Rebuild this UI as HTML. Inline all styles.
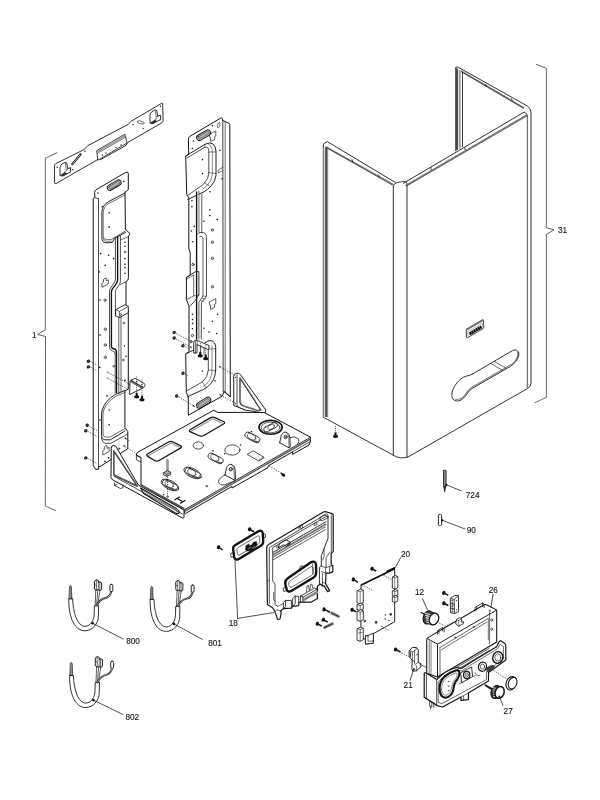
<!DOCTYPE html>
<html><head><meta charset="utf-8"><title>Exploded view</title>
<style>
html,body{margin:0;padding:0;background:#fff;}
body{width:600px;height:800px;overflow:hidden;}
svg{display:block;}
text{font-family:"Liberation Sans",sans-serif;fill:#1a1a1a;stroke:#1a1a1a;stroke-width:0.15px;}
</style></head><body>
<svg width="600" height="800" viewBox="0 0 600 800" stroke-linecap="round" stroke-linejoin="round">
<rect width="600" height="800" fill="#fff"/>
<g id="brackets">
<path d="M57,152.8 L45.3,158.2 L45.3,329.8 L37.5,334.5 L45.5,336.5 L45.3,506 L55.5,510.5" fill="none" stroke="#333" stroke-width="0.75" />
<path d="M536.3,64.3 L546.4,68.3 L546.4,227.8 L554,229.8 L546.4,234.2 L546.4,397.3 L535,402.7" fill="none" stroke="#333" stroke-width="0.75" />
</g>
<g id="cover">
<path d="M323.3,146 Q323.3,143.8 325,142.8 L327.5,141.7 L395.4,182.5" fill="none" stroke="#141414" stroke-width="0.88" />
<path d="M323.3,146 L323.3,417.2 L393.3,455.2 Q400,459.5 408,457 L527.5,388.5 Q531,386.5 531,383 L531,113 Q531,108 527.2,105.9 L457.6,66.9 Q456.2,66.4 455.8,67.8" fill="none" stroke="#141414" stroke-width="0.88" />
<rect x="323.6" y="147.5" width="1.6" height="269" fill="#ccc"/>
<rect x="325.2" y="147.5" width="2.4" height="269.5" fill="#4a4a4a"/>
<path d="M327.8,148 L327.8,416" fill="none" stroke="#888" stroke-width="0.62" />
<path d="M326,146.8 L393,184.4" fill="none" stroke="#777" stroke-width="1.38" />
<path d="M326,147.4 L392.6,185.2" fill="none" stroke="#141414" stroke-width="0.62" />
<path d="M393.3,187.5 Q393.3,183.5 397,182.6 L404,181.4 Q407.5,181.6 407.2,185.5" fill="none" stroke="#141414" stroke-width="0.75" />
<path d="M393.3,187 L393.3,455" fill="none" stroke="#141414" stroke-width="0.88" />
<path d="M407,185 L407,457" fill="none" stroke="#141414" stroke-width="0.88" />
<path d="M403.3,183.3 L524,112.2" fill="none" stroke="#141414" stroke-width="0.88" />
<path d="M406,185.4 L526.6,115" fill="none" stroke="#777" stroke-width="1.38" />
<path d="M406.4,186.2 L527,116" fill="none" stroke="#141414" stroke-width="0.62" />
<path d="M461.4,71.2 L523.6,107.6" fill="none" stroke="#777" stroke-width="1.38" />
<path d="M461.4,71.8 L523.2,108.2" fill="none" stroke="#141414" stroke-width="0.62" />
<rect x="455.8" y="68.5" width="2.2" height="81.5" fill="#555"/>
<rect x="458" y="70" width="2" height="79" fill="#ddd"/>
<path d="M455.8,67.8 L455.8,150.6" fill="none" stroke="#141414" stroke-width="0.88" />
<path d="M460,71 L460,148.2" fill="none" stroke="#141414" stroke-width="0.62" />
<path d="M462.5,72.4 L462.5,146.8" fill="none" stroke="#141414" stroke-width="0.81" />
<path d="M527.3,116 L527.3,387.5" fill="none" stroke="#141414" stroke-width="0.75" />
<path d="M524,112.2 Q527.4,112.4 527.3,116" fill="none" stroke="#141414" stroke-width="0.62" />
<path d="M352,159.5 l0.8,2" fill="none" stroke="#141414" stroke-width="0.75" />
<path d="M378.6,175 l0.8,2" fill="none" stroke="#141414" stroke-width="0.75" />
<path d="M485.6,84.4 l0.8,2" fill="none" stroke="#141414" stroke-width="0.75" />
<path d="M511.4,98.6 l0.8,2" fill="none" stroke="#141414" stroke-width="0.75" />
<path d="M465,147.6 l0,2.2" fill="none" stroke="#141414" stroke-width="0.75" />
<path d="M431,167.4 l0,2.2" fill="none" stroke="#141414" stroke-width="0.75" />
<path d="M467,328.8 L482.4,319.8 Q483.4,319.4 483.5,320.4 L483.8,327.4 Q483.8,328.2 483,328.7 L467.6,337.6 Q466.6,338 466.5,337 L466.2,330 Q466.2,329.2 467,328.8 Z" fill="#fff" stroke="#333" stroke-width="0.94" />
<path d="M467,329.6 L482.6,320.6" fill="none" stroke="#777" stroke-width="1.50" />
<path d="M468,331.4 L482.4,323.2 L482.6,326.8 L468.2,335.2 Z" fill="none" stroke="#666" stroke-width="0.50" />
<path d="M469.6,333.8 L481.6,326.8" fill="none" stroke="#111" stroke-width="3.12" stroke-dasharray="2.1 0.3" stroke-linecap="butt"/>
<path d="M472,374.3 L512.5,350.6 C516.5,348.6 520,351.5 518.6,356 C517.5,360 514.5,363.8 510.5,366.3 L472,388.5 C468,391 467.5,394 465,396.5 C462,400.5 458,401.6 455,400.6 C451,399 451.3,393 453.5,388.5 C456,383 460.5,378 465.5,376.4 C468,375.6 470,375.4 472,374.3 Z" fill="none" stroke="#141414" stroke-width="0.88" />
<path d="M517.6,352.5 C518.6,356 516,361.5 511,364.6 L471.5,387.4 C468,389.5 467,392.5 464.5,395.5 C461.5,399 458,400 455.5,399.2" fill="none" stroke="#141414" stroke-width="0.62" />
<path d="M490.6,363.4 L502.4,370.2 M494.2,361.3 L506,368.2" fill="none" stroke="#141414" stroke-width="0.62" />
<path d="M335.5,426 L335.5,432.6" stroke="#141414" stroke-width="0.62" stroke-dasharray="1.2 0.9" stroke-linecap="butt"/>
<path d="M334.6,432.5 Q335.5,431.8 336.4,432.5 L336.7,435 Q338.2,435.4 338.1,436.7 Q337.9,438.1 335.5,438.1 Q333.1,438.1 332.9,436.7 Q332.8,435.4 334.3,435 Z" fill="#111"/>
</g>
<g id="wallbracket">
<path d="M54.5,165.5 Q54.5,164.3 55.5,163.8 L84.5,149.3 L87.5,145.8 L128.5,124.2 L131,121.3 L161.5,103.4 Q162.6,102.8 162.7,104 L163.1,121 Q163.1,122 162.2,122.6 L127.6,142.6 L126,145.4 L100.5,159.6 L99,158.8 L56,183.6 Q54.6,184.2 54.5,183 Z" fill="none" stroke="#141414" stroke-width="0.88" />
<path d="M97,150.4 L125,134.2 L127,143 L98.2,160 Z" fill="#fff" stroke="#141414" stroke-width="0.81" />
<path d="M97.6,153.2 L125.8,137" fill="none" stroke="#141414" stroke-width="0.62" />
<path d="M97.4,151.8 L125.4,135.6" fill="none" stroke="#999" stroke-width="1.50" />
<path d="M60,167.4 Q60,165.2 62,164 L64.6,162.5 Q66.8,161.7 67,164 L67.8,168.6 L70.6,167.6 L70.6,172 L62.8,176 L60.4,175.6 Z" fill="#fff" stroke="#141414" stroke-width="0.88" />
<path d="M60.8,175 L64.8,172.4 L66.8,173.6 L62.8,175.8 Z" fill="#333" stroke="#141414" stroke-width="0.50" />
<path d="M67.8,168.6 L65.8,171.6 L64.8,172.4 M65.4,163.4 L66.2,169.4" fill="none" stroke="#141414" stroke-width="0.62" />
<path d="M150,115.0 Q150,112.79999999999998 152,111.6 L154.6,110.1 Q156.8,109.29999999999998 157,111.6 L157.8,116.19999999999999 L160.6,115.19999999999999 L160.6,119.6 L152.8,123.6 L150.4,123.19999999999999 Z" fill="#fff" stroke="#141414" stroke-width="0.88" />
<path d="M150.8,122.6 L154.8,120.0 L156.8,121.19999999999999 L152.8,123.4 Z" fill="#333" stroke="#141414" stroke-width="0.50" />
<path d="M157.8,116.19999999999999 L155.8,119.19999999999999 L154.8,120.0 M155.4,111.0 L156.2,117.0" fill="none" stroke="#141414" stroke-width="0.62" />
<path d="M72.3,164.2 L80.6,154.2" fill="none" stroke="#141414" stroke-width="2.12" />
<path d="M72.3,164.2 L80.6,154.2" fill="none" stroke="#fff" stroke-width="0.62" stroke-dasharray="0.6 0.5"/>
<path d="M137.6,121.6 Q138,120.3 139.4,120.6 L144,122.3 Q144.8,123.2 143.7,123.9 L139.2,123.6 Q137.6,123.2 137.6,121.6 Z" fill="none" stroke="#141414" stroke-width="0.62" />
<circle cx="57.3" cy="167.3" r="0.7" fill="#141414"/>
<circle cx="72.7" cy="169.7" r="0.7" fill="#141414"/>
<circle cx="85" cy="151.2" r="0.7" fill="#141414"/>
<circle cx="133" cy="124.5" r="0.7" fill="#141414"/>
<circle cx="143.3" cy="128.6" r="0.7" fill="#141414"/>
<circle cx="160.4" cy="106.3" r="0.7" fill="#141414"/>
<circle cx="102.4" cy="155" r="0.7" fill="#141414"/>
<circle cx="106" cy="153" r="0.7" fill="#141414"/>
<circle cx="116" cy="147.4" r="0.7" fill="#141414"/>
<circle cx="121" cy="145" r="0.7" fill="#141414"/>
</g>
<g id="tray">
<path d="M137.5,452.4 L213.8,410.2 L217.5,412.4 L264,412.4 L310.5,437.2 L310.5,441.4 L309,445 L292.6,454.4 L292.6,451.8 L268,466 L268,467.6 L232,488 L232,486.4 L185.6,513.4 Q184.2,513.6 184.2,512 L184.2,510 L141,485 L141,457.6 L136.4,455.2 Z" fill="#fff" stroke="#141414" stroke-width="1.00" />
<path d="M184.4,509.8 L310.5,437.2" fill="none" stroke="#141414" stroke-width="0.88" />
<path d="M185,511.2 L310.5,438.9" fill="none" stroke="#555" stroke-width="1.38" stroke-dasharray="0.5 0.5"/>
<path d="M292.6,451.8 L310.5,441.4" fill="none" stroke="#141414" stroke-width="0.75" />
<path d="M136.4,455.2 L136.4,459.8 L140.6,461.8 M136.4,455.2 L141,457.6" fill="none" stroke="#141414" stroke-width="0.75" />
<path d="M147.82,456.35 Q145.60,455.00 147.87,453.72 L168.53,442.08 Q170.80,440.80 173.12,441.98 L180.28,445.62 Q182.60,446.80 180.35,448.11 L159.05,460.49 Q156.80,461.80 154.58,460.45 Z" fill="none" stroke="#141414" stroke-width="1.25" />
<path d="M148.6,455.6 L171,443 L179,447" fill="none" stroke="#141414" stroke-width="0.56" />
<path d="M190.57,431.86 Q188.20,430.80 190.44,429.49 L210.26,417.91 Q212.50,416.60 214.87,417.67 L223.43,421.53 Q225.80,422.60 223.56,423.92 L203.84,435.48 Q201.60,436.80 199.23,435.74 Z" fill="none" stroke="#141414" stroke-width="1.25" />
<path d="M191.2,431.4 L212.6,418.8 L222,423" fill="none" stroke="#141414" stroke-width="0.56" />
<ellipse cx="198.3" cy="445.5" rx="5.2" ry="3.6" fill="none" stroke="#141414" stroke-width="0.75"/>
<ellipse cx="232.4" cy="450" rx="7.6" ry="5.1" fill="none" stroke="#141414" stroke-width="0.75"/>
<rect x="239.8" y="444.4" width="1.4" height="1.2" fill="#141414"/>
<rect x="224.0" y="453.09999999999997" width="1.4" height="1.2" fill="#141414"/>
<rect x="212.3" y="450.2" width="1.4" height="1.2" fill="#141414"/>
<rect x="250.70000000000002" y="431.0" width="1.4" height="1.2" fill="#141414"/>
<g transform="translate(215.6 458.4) rotate(27)">
<rect x="-8.2" y="-3" width="16.4" height="6" rx="3" fill="#fff" stroke="#141414" stroke-width="0.75"/>
<ellipse cx="-1" cy="-0.2" rx="4.6" ry="2.7" fill="none" stroke="#141414" stroke-width="0.56"/>
<path d="M1,3 Q6,3 8,0.6 Q7,2.2 4.4,1.8 Q2.4,2.4 1,3 Z" fill="#555" stroke="#444" stroke-width="0.62"/>
</g>
<g transform="translate(192.6 473) rotate(27)">
<ellipse cx="0" cy="0" rx="9.6" ry="4.4" fill="none" stroke="#141414" stroke-width="0.75"/>
<rect x="-8.2" y="-3" width="16.4" height="6" rx="3" fill="#fff" stroke="#141414" stroke-width="0.75"/>
<ellipse cx="-1" cy="-0.2" rx="4.6" ry="2.7" fill="none" stroke="#141414" stroke-width="0.56"/>
<path d="M1,3 Q6,3 8,0.6 Q7,2.2 4.4,1.8 Q2.4,2.4 1,3 Z" fill="#555" stroke="#444" stroke-width="0.62"/>
</g>
<g transform="translate(170 485) rotate(27)">
<ellipse cx="0" cy="0" rx="9.6" ry="4.4" fill="none" stroke="#141414" stroke-width="0.75"/>
<rect x="-8.2" y="-3" width="16.4" height="6" rx="3" fill="#fff" stroke="#141414" stroke-width="0.75"/>
<ellipse cx="-1" cy="-0.2" rx="4.6" ry="2.7" fill="none" stroke="#141414" stroke-width="0.56"/>
<path d="M1,3 Q6,3 8,0.6 Q7,2.2 4.4,1.8 Q2.4,2.4 1,3 Z" fill="#555" stroke="#444" stroke-width="0.62"/>
</g>
<g transform="translate(252.4 437.4) rotate(27)">
<rect x="-8.2" y="-3" width="16.4" height="6" rx="3" fill="#fff" stroke="#141414" stroke-width="0.75"/>
<ellipse cx="-1" cy="-0.2" rx="4.6" ry="2.7" fill="none" stroke="#141414" stroke-width="0.56"/>
<path d="M1,3 Q6,3 8,0.6 Q7,2.2 4.4,1.8 Q2.4,2.4 1,3 Z" fill="#555" stroke="#444" stroke-width="0.62"/>
</g>
<path d="M247.5,454.2 L253.3,450.8 L264.2,457.5 L259.2,460.8 Z" fill="none" stroke="#141414" stroke-width="0.75" />
<path d="M259.2,460.8 L259.4,459.6 L263.4,457.2" fill="none" stroke="#141414" stroke-width="0.50" />
<ellipse cx="270.6" cy="427.3" rx="11.6" ry="6.9" fill="none" stroke="#141414" stroke-width="1.62"/>
<ellipse cx="270.6" cy="427.5" rx="9.4" ry="5.3" fill="none" stroke="#141414" stroke-width="0.62"/>
<g transform="translate(270.6 427.2) rotate(-27)"><rect x="-7.4" y="-2.6" width="14.8" height="5.2" rx="2.6" fill="none" stroke="#141414" stroke-width="0.75"/><ellipse cx="0.6" cy="0" rx="3.6" ry="2.2" fill="none" stroke="#141414" stroke-width="0.56"/></g>
<path d="M225.0,475.0 Q218.8,477.59999999999997 218.4,481.8 Q219.8,485.8 224.8,484.8 L235.0,480.8" fill="none" stroke="#141414" stroke-width="0.75" />
<path d="M225.0,475.0 L226.60000000000002,467.4 Q229.20000000000002,463.0 232.4,464.8 Q235.20000000000002,466.59999999999997 235.20000000000002,470.2 L235.5,479.2 L234.4,480.0 L225.0,475.0 Z" fill="#fff" stroke="#141414" stroke-width="0.88" />
<path d="M234.4,480.0 L234.0,469.59999999999997 Q233.4,466.2 231.4,464.59999999999997" fill="none" stroke="#141414" stroke-width="0.56" />
<ellipse cx="230.8" cy="469.2" rx="1.5" ry="1.8" fill="#fff" stroke="#141414" stroke-width="0.88"/>
<ellipse cx="231.0" cy="469.3" rx="0.6" ry="0.8" fill="#444"/>
<path d="M290.0,437.6 Q294.9,435.4 298.5,439 Q299.9,442 297.5,444.6" fill="none" stroke="#141414" stroke-width="0.75" />
<path d="M279.7,442.8 L281.3,435.2 Q283.9,430.8 287.1,432.6 Q289.9,434.4 289.9,438 L290.2,447 L289.1,447.8 L279.7,442.8 Z" fill="#fff" stroke="#141414" stroke-width="0.88" />
<path d="M289.1,447.8 L288.7,437.4 Q288.1,434 286.1,432.4" fill="none" stroke="#141414" stroke-width="0.56" />
<ellipse cx="285.5" cy="437" rx="1.5" ry="1.8" fill="#fff" stroke="#141414" stroke-width="0.88"/>
<ellipse cx="285.7" cy="437.1" rx="0.6" ry="0.8" fill="#444"/>
<path d="M166.9,459.4 L166.9,471.6 M168.1,460 L168.1,471" fill="none" stroke="#141414" stroke-width="0.62" />
<path d="M163.6,472.6 L167.4,470.6 L170.6,472.2 L170.6,474.4 L166.8,476.4 L163.6,474.8 Z" fill="#bbb" stroke="#141414" stroke-width="0.75" />
<path d="M163.6,472.6 L166.8,474.2 L170.6,472.2 M166.8,474.2 L166.8,476.4" fill="none" stroke="#141414" stroke-width="0.50" />
<path d="M167.5,477 L167.5,496.6" stroke="#141414" stroke-width="0.62" stroke-dasharray="1.3 1" stroke-linecap="butt"/>
<circle cx="163.7" cy="494.7" r="0.8" fill="#141414"/>
<ellipse cx="167.5" cy="496.8" rx="0.9" ry="0.7" fill="none" stroke="#141414" stroke-width="0.50"/>
<ellipse cx="206.7" cy="486.2" rx="1" ry="0.8" fill="#ccc" stroke="#141414" stroke-width="0.50"/>
<path d="M174.8,499.8 L179.4,497 M180.4,503.2 L185,500.4 M177,498.4 L182.8,501.8" fill="none" stroke="#141414" stroke-width="1.19" />
<ellipse cx="283.4" cy="475" rx="2" ry="1.5" fill="#111" transform="rotate(30 283.4 475)"/>
<path d="M281.4,473.4 L283,474.6" fill="none" stroke="#141414" stroke-width="1.50" />
<path d="M269,465.8 L282,473.6" stroke="#141414" stroke-width="0.62" stroke-dasharray="1.5 1.1" stroke-linecap="butt"/>
</g>
<g id="tri_r">
<path d="M233.7,376 Q233.8,373.6 236,373.4 L238.3,373.3 Q239.6,373.4 240.4,374.6 L265.8,410 L265.6,412.4 L261,412.6 L245,410 L237,406.6 L234.2,405.8 Z" fill="#fff" stroke="#141414" stroke-width="0.94" />
<path d="M237,375 L237,406.6" fill="none" stroke="#141414" stroke-width="0.75" />
<path d="M240,377.8 L240,401.6 Q240.4,404.8 243.3,405.8 L257.6,410.6 L260.8,410 Z" fill="none" stroke="#141414" stroke-width="1.38" />
<path d="M240,377.8 L240,401.6 Q240.4,404.8 243.3,405.8 L257.6,410.6 L260.8,410 Z" fill="none" stroke="#fff" stroke-width="0.38" />
<path d="M237,406.6 L245,410" fill="none" stroke="#141414" stroke-width="0.62" />
<circle cx="235.4" cy="377.4" r="0.55" fill="#141414"/><circle cx="235.4" cy="403.6" r="0.55" fill="#141414"/>
</g>
<g id="rail_l">
<path d="M94.6,192.4 Q94.6,190.6 96,189.8 L125.6,172.4 Q128.2,171.2 128.3,173.6 L128.3,189.6 L125,192.2 L125.4,229.4 L130,233.6 L128.4,236.6 L128.4,277.6 Q128.4,280.6 126,281.8 L126,308 L128.3,309.6 L128.3,389 L124.9,391 L124.9,427.4 L127.8,431.6 L127.8,448.6 L101.6,465.6 L98.6,467 L98.6,469.2 L95.6,469.4 L94.6,467.6 L93.2,465.6 L93.2,198.4 L94.6,197.6 Z" fill="#fff" stroke="#141414" stroke-width="1.00" />
<path d="M98.5,198.8 L98.5,467 M94.6,197.6 L98.5,198.8" fill="none" stroke="#141414" stroke-width="0.75" />
<g transform="translate(114.2 185.2) rotate(-30.5)"><rect x="-7.6" y="-2.7" width="15.2" height="5.4" rx="2.7" fill="#fff" stroke="#141414" stroke-width="1.00"/><rect x="-6.2" y="-1.5" width="12.4" height="3" rx="1.5" fill="#aaa" stroke="#141414" stroke-width="0.50"/></g>
<path d="M125,193 L108.6,201.6 Q102,205.4 101.9,212 L101.9,237 Q102,242.8 106,242.8 L112,242.6 L114.8,238.2 L125.5,232.4" fill="none" stroke="#141414" stroke-width="0.94" />
<path d="M125,195 L109,203.4 Q103.2,206.8 103.2,212.6 L103.2,235.6 Q103.4,239.6 106.8,239.8 L111.6,239.4 L125.4,231" fill="none" stroke="#141414" stroke-width="0.62" />
<path d="M103.2,238 Q103.4,241.4 106.4,241.4 L111.6,241.2" fill="none" stroke="#141414" stroke-width="0.50" />
<path d="M115.4,238 L115.4,279.6 Q115.2,281.6 113.6,283.6 L110.6,288 Q109.5,289.6 109.5,291.6 L109.5,347 Q109.6,350.6 112.6,351 Q115,351 115.2,353.6" fill="none" stroke="#141414" stroke-width="0.75" />
<path d="M117.6,237 L117.6,280 Q117.4,282.4 115.6,284.6 L112.6,288.6 Q111.4,290.2 111.4,292 L111.4,346.4 Q111.6,348.6 113.6,348.8 Q116.4,349 116.5,352.4 L116.5,392.6" fill="none" stroke="#141414" stroke-width="1.38" />
<path d="M120.4,236 L120.4,281.4 Q120.2,284 118,286.6 L116.4,289 Q115.4,290.4 115.4,292 L115.4,316" fill="none" stroke="#141414" stroke-width="0.75" />
<path d="M120.4,284.6 L126,281.8" fill="none" stroke="#141414" stroke-width="0.62" />
<path d="M118.8,317.6 L118.8,393.4 M121,316.6 L121,392 M115.2,353.6 L115.2,393" fill="none" stroke="#141414" stroke-width="0.69" />
<path d="M116,309.6 L125,304.6 L128.3,306.4 L128.3,312.6 L119.4,317.6 L116,316 Z" fill="#fff" stroke="#141414" stroke-width="0.88" />
<path d="M116,309.6 L119.4,311.4 L128.3,306.4 M119.4,311.4 L119.4,317.6" fill="none" stroke="#141414" stroke-width="0.62" />
<ellipse cx="120.6" cy="314.6" rx="0.9" ry="1" fill="none" stroke="#141414" stroke-width="0.62"/>
<path d="M120.4,240 L128.4,236.6" fill="none" stroke="#141414" stroke-width="0.62" />
<path d="M124.9,390.4 L115,394.6 Q105,401 102.6,409 Q101.6,411.6 101.6,414 L101.6,435.2 Q101.8,439.6 105.2,439.8 L110.4,439.8 L124.9,431" fill="none" stroke="#141414" stroke-width="0.94" />
<path d="M124.9,392.4 L115.6,396.4 Q106.4,402.4 104,409.6 Q103,412 103,414.4 L103,434 Q103.2,436.8 105.6,437 L110,437 L124.9,428.6" fill="none" stroke="#141414" stroke-width="0.62" />
<path d="M101.6,437.6 Q102,443 106,443.4 L110.9,443.3 L127.8,434" fill="none" stroke="#141414" stroke-width="0.75" />
<path d="M102,287.0 L102,283.0 L103.5,282.2 L103.5,279.4 Q105,277.79999999999995 106.2,278.0 L106.2,280.79999999999995 L108.4,279.79999999999995 L108.4,283.4 Z" fill="none" stroke="#141414" stroke-width="0.69" />
<path d="M102.8,454.6 L102.8,450.6 L104.3,449.8 L104.3,447 Q105.8,445.4 107.0,445.6 L107.0,448.4 L109.2,447.4 L109.2,451 Z" fill="none" stroke="#141414" stroke-width="0.69" />
<ellipse cx="105" cy="300.2" rx="1.1" ry="1.265" fill="#fff" stroke="#141414" stroke-width="0.69"/>
<ellipse cx="105.25" cy="329.2" rx="1.1" ry="1.265" fill="#fff" stroke="#141414" stroke-width="0.69"/>
<ellipse cx="105.25" cy="345" rx="1.1" ry="1.265" fill="#fff" stroke="#141414" stroke-width="0.69"/>
<ellipse cx="105.25" cy="357.3" rx="1.1" ry="1.265" fill="#fff" stroke="#141414" stroke-width="0.69"/>
<ellipse cx="125" cy="251.9" rx="0.8" ry="0.9199999999999999" fill="#fff" stroke="#141414" stroke-width="0.56"/>
<ellipse cx="123.8" cy="323" rx="0.8" ry="0.9199999999999999" fill="#fff" stroke="#141414" stroke-width="0.56"/>
<ellipse cx="123.25" cy="360" rx="0.8" ry="0.9199999999999999" fill="#fff" stroke="#141414" stroke-width="0.56"/>
<ellipse cx="113.7" cy="366.3" rx="0.8" ry="0.9199999999999999" fill="#fff" stroke="#141414" stroke-width="0.56"/>
<ellipse cx="119" cy="448.6" rx="0.8" ry="0.9199999999999999" fill="#fff" stroke="#141414" stroke-width="0.56"/>
<circle cx="97.9" cy="193" r="0.8" fill="#141414"/>
<circle cx="123.8" cy="181.6" r="0.8" fill="#141414"/>
<circle cx="102.2" cy="206.8" r="0.8" fill="#141414"/>
<circle cx="109.2" cy="212.8" r="0.8" fill="#141414"/>
<circle cx="109.2" cy="226.9" r="0.8" fill="#141414"/>
<circle cx="100.75" cy="253.6" r="0.8" fill="#141414"/>
<circle cx="108.6" cy="255.25" r="0.8" fill="#141414"/>
<circle cx="113.7" cy="258.6" r="0.8" fill="#141414"/>
<circle cx="105.25" cy="265.4" r="0.8" fill="#141414"/>
<circle cx="99.4" cy="272" r="0.8" fill="#141414"/>
<circle cx="125" cy="242.3" r="0.8" fill="#141414"/>
<circle cx="125" cy="246.25" r="0.8" fill="#141414"/>
<circle cx="125" cy="258.6" r="0.8" fill="#141414"/>
<circle cx="125" cy="264.25" r="0.8" fill="#141414"/>
<circle cx="125" cy="267.6" r="0.8" fill="#141414"/>
<circle cx="125" cy="273.25" r="0.8" fill="#141414"/>
<circle cx="124.4" cy="346" r="0.8" fill="#141414"/>
<circle cx="126" cy="356.2" r="0.8" fill="#141414"/>
<circle cx="99.6" cy="367.4" r="0.8" fill="#141414"/>
<circle cx="125" cy="380.4" r="0.8" fill="#141414"/>
<circle cx="107" cy="395.9" r="0.8" fill="#141414"/>
<circle cx="109.2" cy="410" r="0.8" fill="#141414"/>
<circle cx="109.2" cy="424.7" r="0.8" fill="#141414"/>
<circle cx="125.5" cy="438.4" r="0.8" fill="#141414"/>
<circle cx="124.1" cy="445.9" r="0.8" fill="#141414"/>
<circle cx="108.6" cy="457.9" r="0.8" fill="#141414"/>
<circle cx="105" cy="461.4" r="0.8" fill="#141414"/>
<circle cx="100" cy="420" r="0.8" fill="#141414"/>
<circle cx="100" cy="300" r="0.8" fill="#141414"/>
<circle cx="100" cy="335" r="0.8" fill="#141414"/>
</g>
<g id="tri_l">
<path d="M111.25,448 Q111.3,445.4 113.3,445.4 L115.8,446.2 L138.3,485 L184,510 L184,517.6 L182.8,518.2 L112.6,479.8 L111.25,478 Z" fill="#fff" stroke="#141414" stroke-width="1.00" />
<path d="M113.8,450.8 L113.8,475 L137.4,486.2 Z" fill="none" stroke="#141414" stroke-width="1.50" />
<path d="M113.8,450.8 L113.8,475 L137.4,486.2 Z" fill="none" stroke="#fff" stroke-width="0.38" />
<path d="M114.6,476.6 L182.4,514 " fill="none" stroke="#141414" stroke-width="0.75" />
<path d="M141,484.8 L184,508.4" fill="none" stroke="#555" stroke-width="1.62" stroke-dasharray="0.5 0.5"/>
<path d="M140.6,488 L176.4,508.6 Q179.8,510.8 179.2,512.6 Q178.2,514.2 175.4,513 L143.6,493.4 Z" fill="none" stroke="#141414" stroke-width="1.12" />
<path d="M143,490.4 L175.4,509.4 Q177.6,511 177,512" fill="none" stroke="#141414" stroke-width="0.50" />
<path d="M114.6,482.6 L114.6,485.4 L120.6,488.6 L123,487.6 L123,485 M114.6,485.4 L117,484.4" fill="none" stroke="#141414" stroke-width="0.75" />
</g>
<g id="rail_r">
<path d="M188.4,139 Q188.4,137.4 189.8,136.4 L220.6,118.2 Q221.8,117.4 222.2,118.6 L222.8,120.6 L224,121 L229.2,123.4 L229.8,124.4 L230.3,396.7 L224,391.6 L222.3,396 L188.3,415.3 L188.3,396.7 L186.3,392.7 L185.7,354 L189,351.6 L189,306 L186.4,299.7 L186.4,277.5 L190.2,275 L190.2,252.7 L188.8,248.6 L188.8,197.8 L186.7,194.5 L185.7,156.1 L188.4,154.3 Z" fill="#fff" stroke="#141414" stroke-width="1.00" />
<path d="M222.8,120.6 L223.2,391.6" fill="none" stroke="#141414" stroke-width="0.81" />
<path d="M225.2,122 L225.2,392.6" fill="none" stroke="#141414" stroke-width="0.62" />
<path d="M223.7,391.3 Q226.6,392 230.3,396.7" fill="none" stroke="#141414" stroke-width="0.62" />
<g transform="translate(203.6 135.2) rotate(-31)"><rect x="-7.6" y="-2.8" width="15.2" height="5.6" rx="2.8" fill="#fff" stroke="#141414" stroke-width="1.00"/><rect x="-6.2" y="-1.5" width="12.4" height="3" rx="1.5" fill="#aaa" stroke="#141414" stroke-width="0.50"/></g>
<path d="M210.6,141 L210.6,137.6 L209.4,137 L209.4,134.4 L215.8,131 L215.8,136 L214.6,136.6 L214.6,139.4 Z" fill="none" stroke="#141414" stroke-width="0.69" />
<path d="M217.6,127.4 L217.2,125.4 L218.4,123 L219.8,122.4 L220,125.6 Z" fill="none" stroke="#141414" stroke-width="0.62" />
<path d="M210.6,309 L210.6,305.2 L209.4,304.6 L209.4,302 L215.8,298.6 L215.8,303.6 L214.6,304.2 L214.6,307 Z" fill="none" stroke="#141414" stroke-width="0.69" />
<path d="M185.7,156.1 L204.75,144.4 Q210,141.6 213.4,144.2 Q216,146.6 216,152 L216,175.3 Q215.6,181.6 210.6,186.6 Q207.6,189.6 204.2,191.7 L187.6,199.6" fill="none" stroke="#141414" stroke-width="0.94" />
<path d="M187,158 L204.6,147.4 Q208.8,146 208.8,151.4 L208.8,173 Q208.6,178.6 204.6,183 Q202.6,185 200.6,186.4 L187.25,195.75" fill="none" stroke="#141414" stroke-width="0.75" />
<path d="M207.6,143.4 Q212.3,146 212.3,152 L212.3,174.4 Q212,180.6 207,185.6 Q205,187.6 202.6,189.2" fill="none" stroke="#141414" stroke-width="0.50" />
<path d="M208.8,152 L216,152 M208.8,172.6 L216,173.4 M204.6,183 L210.6,186.6 M204.75,144.4 L204.6,147.4" fill="none" stroke="#141414" stroke-width="0.50" />
<path d="M222.8,167.4 L218.2,170 L218.2,173 L222.8,170.6" fill="none" stroke="#141414" stroke-width="0.62" />
<path d="M196.6,192 L196.6,339" fill="none" stroke="#141414" stroke-width="1.38" />
<path d="M198.9,191 L198.9,231.6 M201.8,194.3 L201.8,232.6" fill="none" stroke="#141414" stroke-width="0.69" />
<rect x="197.2" y="193" width="1.4" height="38" fill="#bbb"/>
<path d="M197.8,234 Q198.2,231.8 201.8,232.4 Q206.4,232.6 206.5,237.5 L206.5,295 Q206,298 203.6,300 L201.4,302.6 L201.25,339" fill="none" stroke="#141414" stroke-width="0.75" />
<path d="M199.6,236.6 Q203,235.4 203,239 L203,295 Q202.6,297.4 200.6,299.6 L198.9,302.4 L198.9,339" fill="none" stroke="#141414" stroke-width="0.69" />
<path d="M203,296 L206.4,296.4 M202,298.6 L205.4,299 M200.8,300.6 L203.8,301.4" fill="none" stroke="#141414" stroke-width="0.50" />
<path d="M186.4,277.5 L196.6,271 L198.9,271.7 L198.9,295 L195.4,300.25 L190.2,306" fill="none" stroke="#141414" stroke-width="0.81" />
<path d="M186.4,299.7 L193.7,296 L193.7,275 M193.7,296 L198.9,295 M193.7,275 L186.4,279.4" fill="none" stroke="#141414" stroke-width="0.62" />
<path d="M193.7,350 L185.7,354" fill="none" stroke="#141414" stroke-width="0.88" />
<path d="M205,342.7 Q208,340 211,340.7 Q215.7,341.6 215.7,347.6 L215.7,370 Q215.4,378 211,383.3 Q208,387 203.7,389.3 L187.7,396.7" fill="none" stroke="#141414" stroke-width="0.94" />
<path d="M208.3,349.3 L208.3,370 Q208,377 202.3,382 L187,390.7" fill="none" stroke="#141414" stroke-width="0.75" />
<path d="M212,346 L212,371 Q211.6,379 206.6,384 L203,386.6" fill="none" stroke="#141414" stroke-width="0.50" />
<path d="M208.3,349.3 L215.7,348.6 M208.3,370 L215.7,370.6 M202.3,382 L206.4,388" fill="none" stroke="#141414" stroke-width="0.50" />
<path d="M193.7,352.6 L193.7,342.6 Q193.8,340.4 196,340 L197.4,340.4 L209,345.6 L209,348.4 L207.6,349.4 L197,344.6 L197,352.6 Z" fill="#fff" stroke="#141414" stroke-width="0.88" />
<path d="M197,344.6 L197.4,340.4 M195.4,341 L195.4,352.8 M200.6,346.4 L200.6,352.6 M204,347.8 L204,354.6" fill="none" stroke="#141414" stroke-width="0.62" />
<path d="M200.3,343 L200.3,353 M205.7,345.4 L205.7,355.6" stroke="#141414" stroke-width="0.62" stroke-dasharray="1.2 0.9" stroke-linecap="butt"/>
<path d="M199.4,352.0 Q200.3,351.3 201.20000000000002,352.0 L201.5,354.5 Q203.0,354.9 202.9,356.2 Q202.70000000000002,357.6 200.3,357.6 Q197.9,357.6 197.70000000000002,356.2 Q197.60000000000002,354.9 199.10000000000002,354.5 Z" fill="#111"/>
<path d="M204.79999999999998,354.7 Q205.7,354.0 206.6,354.7 L206.89999999999998,357.2 Q208.39999999999998,357.59999999999997 208.29999999999998,358.9 Q208.1,360.3 205.7,360.3 Q203.29999999999998,360.3 203.1,358.9 Q203.0,357.59999999999997 204.5,357.2 Z" fill="#111"/>
<g transform="translate(203.7 402.7) rotate(-32)"><rect x="-7.8" y="-2.9" width="15.6" height="5.8" rx="2.9" fill="#fff" stroke="#141414" stroke-width="1.00"/><rect x="-6.4" y="-1.6" width="12.8" height="3.2" rx="1.6" fill="#aaa" stroke="#141414" stroke-width="0.50"/></g>
<ellipse cx="212.3" cy="230" rx="1.1" ry="1.265" fill="#fff" stroke="#141414" stroke-width="0.69"/>
<ellipse cx="212.3" cy="242.2" rx="1.1" ry="1.265" fill="#fff" stroke="#141414" stroke-width="0.69"/>
<ellipse cx="212.3" cy="258.3" rx="1.1" ry="1.265" fill="#fff" stroke="#141414" stroke-width="0.69"/>
<ellipse cx="193" cy="264.5" rx="1.1" ry="1.265" fill="#fff" stroke="#141414" stroke-width="0.69"/>
<ellipse cx="212.3" cy="286.8" rx="1.1" ry="1.265" fill="#fff" stroke="#141414" stroke-width="0.69"/>
<ellipse cx="192.5" cy="335.6" rx="1.1" ry="1.265" fill="#fff" stroke="#141414" stroke-width="0.69"/>
<ellipse cx="191" cy="341.7" rx="1.1" ry="1.265" fill="#fff" stroke="#141414" stroke-width="0.69"/>
<circle cx="193.4" cy="141" r="0.8" fill="#141414"/>
<circle cx="192.3" cy="148.5" r="0.8" fill="#141414"/>
<circle cx="212.3" cy="125.75" r="0.8" fill="#141414"/>
<circle cx="220" cy="150.25" r="0.8" fill="#141414"/>
<circle cx="202.4" cy="159.6" r="0.8" fill="#141414"/>
<circle cx="202.4" cy="173.6" r="0.8" fill="#141414"/>
<circle cx="222" cy="178.8" r="0.8" fill="#141414"/>
<circle cx="210" cy="191.7" r="0.8" fill="#141414"/>
<circle cx="191.9" cy="200.75" r="0.8" fill="#141414"/>
<circle cx="191.9" cy="206.6" r="0.8" fill="#141414"/>
<circle cx="209.8" cy="209.7" r="0.8" fill="#141414"/>
<circle cx="209.8" cy="215.6" r="0.8" fill="#141414"/>
<circle cx="203.8" cy="221.2" r="0.8" fill="#141414"/>
<circle cx="217.2" cy="219.4" r="0.8" fill="#141414"/>
<circle cx="194.25" cy="226.4" r="0.8" fill="#141414"/>
<circle cx="191.3" cy="231" r="0.8" fill="#141414"/>
<circle cx="192.5" cy="241.8" r="0.8" fill="#141414"/>
<circle cx="217.6" cy="314.25" r="0.8" fill="#141414"/>
<circle cx="212.3" cy="321.25" r="0.8" fill="#141414"/>
<circle cx="203.8" cy="328.25" r="0.8" fill="#141414"/>
<circle cx="209" cy="332" r="0.8" fill="#141414"/>
<circle cx="216.6" cy="333.5" r="0.8" fill="#141414"/>
<circle cx="192.5" cy="314.25" r="0.8" fill="#141414"/>
<circle cx="192.5" cy="319.5" r="0.8" fill="#141414"/>
<circle cx="192.5" cy="323.6" r="0.8" fill="#141414"/>
<circle cx="192.5" cy="328.8" r="0.8" fill="#141414"/>
<circle cx="219.7" cy="366.7" r="0.8" fill="#141414"/>
<circle cx="215" cy="380.7" r="0.8" fill="#141414"/>
<circle cx="220.3" cy="394.7" r="0.8" fill="#141414"/>
<circle cx="193.7" cy="406" r="0.8" fill="#141414"/>
<circle cx="202.3" cy="371" r="0.8" fill="#141414"/>
<circle cx="191" cy="347.3" r="0.8" fill="#141414"/>
</g>
<g id="smallbr">
<path d="M130,381.4 Q130,380.4 131,380 L134.6,378.6 Q135.6,378.4 136.4,378.9 L144.4,383.6 Q145.4,384.4 144.8,385.6 L143.6,387.6 L130,394.4 Z" fill="#fff" stroke="#141414" stroke-width="0.88" />
<path d="M131,380.6 L142.6,387.2" fill="none" stroke="#444" stroke-width="1.62" stroke-dasharray="0.7 0.5"/>
<path d="M130.4,381.8 L142,388.4" fill="none" stroke="#141414" stroke-width="0.62" />
<circle cx="136.8" cy="381.6" r="0.6" fill="#141414"/>
<circle cx="141.8" cy="384.6" r="0.6" fill="#141414"/>
<path d="M136.6,376.4 L136.6,393 M142,379.4 L142,396" stroke="#141414" stroke-width="0.62" stroke-dasharray="1.2 0.9" stroke-linecap="butt"/>
<path d="M135.79999999999998,392.9 Q136.7,392.2 137.6,392.9 L137.89999999999998,395.4 Q139.39999999999998,395.79999999999995 139.29999999999998,397.09999999999997 Q139.1,398.5 136.7,398.5 Q134.29999999999998,398.5 134.1,397.09999999999997 Q134.0,395.79999999999995 135.5,395.4 Z" fill="#111"/>
<path d="M141.1,395.9 Q142,395.2 142.9,395.9 L143.2,398.4 Q144.7,398.79999999999995 144.6,400.09999999999997 Q144.4,401.5 142,401.5 Q139.6,401.5 139.4,400.09999999999997 Q139.3,398.79999999999995 140.8,398.4 Z" fill="#111"/>
</g>
<g id="screws1">
<ellipse cx="88.4" cy="361.2" rx="1.75" ry="1.6" fill="#1c1c1c" transform="rotate(-25 88.4 361.2)"/>
<ellipse cx="88.60000000000001" cy="361.09999999999997" rx="0.55" ry="0.4" fill="#999" transform="rotate(-35 88.4 361.2)"/>
<ellipse cx="88.4" cy="366.9" rx="1.75" ry="1.6" fill="#1c1c1c" transform="rotate(-25 88.4 366.9)"/>
<ellipse cx="88.60000000000001" cy="366.79999999999995" rx="0.55" ry="0.4" fill="#999" transform="rotate(-35 88.4 366.9)"/>
<ellipse cx="87.2" cy="425.2" rx="1.75" ry="1.6" fill="#1c1c1c" transform="rotate(-25 87.2 425.2)"/>
<ellipse cx="87.4" cy="425.09999999999997" rx="0.55" ry="0.4" fill="#999" transform="rotate(-35 87.2 425.2)"/>
<ellipse cx="85.8" cy="430.7" rx="1.75" ry="1.6" fill="#1c1c1c" transform="rotate(-25 85.8 430.7)"/>
<ellipse cx="86.0" cy="430.59999999999997" rx="0.55" ry="0.4" fill="#999" transform="rotate(-35 85.8 430.7)"/>
<ellipse cx="85.8" cy="457.9" rx="1.75" ry="1.6" fill="#1c1c1c" transform="rotate(-25 85.8 457.9)"/>
<ellipse cx="86.0" cy="457.79999999999995" rx="0.55" ry="0.4" fill="#999" transform="rotate(-35 85.8 457.9)"/>
<ellipse cx="174.2" cy="332.4" rx="1.75" ry="1.6" fill="#1c1c1c" transform="rotate(-25 174.2 332.4)"/>
<ellipse cx="174.39999999999998" cy="332.29999999999995" rx="0.55" ry="0.4" fill="#999" transform="rotate(-35 174.2 332.4)"/>
<ellipse cx="174.2" cy="338" rx="1.75" ry="1.6" fill="#1c1c1c" transform="rotate(-25 174.2 338)"/>
<ellipse cx="174.39999999999998" cy="337.9" rx="0.55" ry="0.4" fill="#999" transform="rotate(-35 174.2 338)"/>
<ellipse cx="183" cy="345.8" rx="1.75" ry="1.6" fill="#1c1c1c" transform="rotate(-25 183 345.8)"/>
<ellipse cx="183.2" cy="345.7" rx="0.55" ry="0.4" fill="#999" transform="rotate(-35 183 345.8)"/>
<ellipse cx="183" cy="373.3" rx="1.75" ry="1.6" fill="#1c1c1c" transform="rotate(-25 183 373.3)"/>
<ellipse cx="183.2" cy="373.2" rx="0.55" ry="0.4" fill="#999" transform="rotate(-35 183 373.3)"/>
<ellipse cx="176.7" cy="396" rx="1.75" ry="1.6" fill="#1c1c1c" transform="rotate(-25 176.7 396)"/>
<ellipse cx="176.89999999999998" cy="395.9" rx="0.55" ry="0.4" fill="#999" transform="rotate(-35 176.7 396)"/>
<path d="M90.4,361.4 L97,365 M90.4,367 L97,370.6 M89.2,426.2 L97,430.6 M87.6,431.2 L97,436.4 M87.6,458.4 L97,463.6" stroke="#141414" stroke-width="0.62" stroke-dasharray="1.5 1.1" stroke-linecap="butt" fill="none"/>
<path d="M176,333.4 L191,341.4 M176,339 L191,347 M185,346.8 L189,349 M185,374.3 L188.4,376 M178.6,397 L193.4,405.6" stroke="#141414" stroke-width="0.62" stroke-dasharray="1.5 1.1" stroke-linecap="butt" fill="none"/>
<path d="M108,372.6 L130.4,384.6 M108,378.6 L130.4,390.6 M125,446.6 L136.2,453.4 M126,438.8 L130,441.2" stroke="#141414" stroke-width="0.62" stroke-dasharray="1.5 1.1" stroke-linecap="butt" fill="none"/>
<circle cx="107.3" cy="372" r="0.6" fill="#141414"/>
<circle cx="107.3" cy="378" r="0.6" fill="#141414"/>
<path d="M220,367 L236,375.6 M220.6,395 L236,403.4 M194,406.4 L200,409.6" stroke="#141414" stroke-width="0.62" stroke-dasharray="1.5 1.1" stroke-linecap="butt" fill="none"/>
</g>
<defs><g id="wire">
<path d="M69.7,586.6 L70.3,585.6 L71.4,586.6 L71.9,599.4 L69.3,599.4 Z" fill="#666" stroke="#141414" stroke-width="0.62"/>
<path d="M70.6,587 L70.6,599" stroke="#bbb" stroke-width="0.50" fill="none"/>
<path d="M68.8,599.2 C68.4,614 73,630.8 85.2,630.8 C92,630.6 98.4,624 98.4,616 L98.6,605.4 L94.4,605.8 L94.2,614 C94.2,620 90.6,626.2 85.2,626.3 C77,626.2 73,612 72.7,599.2 Z" fill="#fff" stroke="#141414" stroke-width="0.88"/>
<path d="M95.2,605.6 L95.8,589.6 M96.6,605.6 L97.8,590 M97.6,605.2 L100,590.2" stroke="#141414" stroke-width="0.69" fill="none"/>
<path d="M96.6,605.6 C99,600.4 102.4,598.6 105.4,598 C108.6,597.4 110,595.6 111.2,592" stroke="#141414" stroke-width="1.88" fill="none"/>
<path d="M96.6,605.6 C99,600.4 102.4,598.6 105.4,598 C108.6,597.4 110,595.6 111.2,592" stroke="#fff" stroke-width="0.56" fill="none"/>
<path d="M94.8,581 L96.4,579.8 L98.4,580.6 L98.4,582.6 L99.8,581.8 L101.6,582.8 L101.6,589.4 L99.8,590.6 L97.6,589.6 L96.4,590.2 L94.8,589.2 Z" fill="#fff" stroke="#141414" stroke-width="0.94"/>
<path d="M96.4,579.8 L96.4,590.2 M98.4,582.6 L98.4,589.6 M99.8,581.8 L99.8,590.6 M94.8,584.6 L96.4,585.4" stroke="#141414" stroke-width="0.62" fill="none"/>
<rect x="109.9" y="584.4" width="2.9" height="7.2" rx="1.2" fill="#fff" stroke="#141414" stroke-width="0.94"/>
<circle cx="92.6" cy="623.3" r="1.3" fill="#111"/>
</g></defs>
<use href="#wire"/>
<use href="#wire" transform="translate(81.3 0.6)"/>
<use href="#wire" transform="translate(0.8 76.8)"/>
<path d="M92.6,623.3 L123.2,639" fill="none" stroke="#141414" stroke-width="0.75" />
<path d="M173.9,623.9 L202.2,639.3" fill="none" stroke="#141414" stroke-width="0.75" />
<path d="M93.4,700.1 L122.5,714.3" fill="none" stroke="#141414" stroke-width="0.75" />
<rect x="443.5" y="470.4" width="2.6" height="16.4" rx="0.5" fill="#8a8a8a" stroke="#141414" stroke-width="0.81"/>
<path d="M443.8,487 L444.6,492.2 L445.8,487 Z" fill="#333" stroke="#141414" stroke-width="0.62" />
<circle cx="446.3" cy="484.8" r="1.15" fill="#111"/>
<path d="M446.3,484.8 L461.2,490.8" fill="none" stroke="#141414" stroke-width="0.75" />
<rect x="438.4" y="514.4" width="3.2" height="11.2" rx="1.2" fill="#fff" stroke="#141414" stroke-width="0.88"/>
<circle cx="442.4" cy="520.3" r="1.15" fill="#111"/>
<path d="M442.4,520.3 L465,529" fill="none" stroke="#141414" stroke-width="0.75" />
<g id="p18">
<path d="M233.2,549.4 Q232.6,546.6 235,545.2 L258.4,531.2 Q262.2,529.6 262.8,533.4 L263.2,541.6 Q263.2,544.4 260.8,545.8 L238.4,559.2 Q234.8,560.8 234.2,557 Z" fill="#fff" stroke="#141414" stroke-width="2.38" />
<path d="M236.8,550.4 Q236.4,548.6 238,547.6 L257.4,536 Q259.4,535.2 259.6,537.2 L259.8,541.4 Q259.8,543 258.4,543.8 L239.6,555 Q237.6,555.8 237.4,554 Z" fill="none" stroke="#141414" stroke-width="0.62" />
<path d="M233,552.8 L230.6,553.8 L231,557.2 L233.6,557 M263,533.8 L265.4,534.2 L265.6,537.4 L263.2,538" fill="none" stroke="#141414" stroke-width="0.75" />
<path d="M245.6,549.4 L246,545.6 L249,544 L249.4,546 L252.6,544.2 L253,542.6 L256.4,541.4 L257,545.4 L251.6,550.6 L247,551 Z" fill="#141414" stroke="#141414" stroke-width="0.62"/>
<path d="M248.6,548.6 L250.6,547.4 M252.4,548 L254.6,546.6" stroke="#ddd" stroke-width="0.62" fill="none"/>
<path d="M266.7,548 Q266.6,545.6 268.6,544.4 L323,512.2 Q324.4,511.4 326,511.8 L332,513.6 Q333.2,514 333.2,515.4 L333.2,551.6 L331.2,553.4 L331.2,565 L332.8,565.6 L332.8,571.6 L329.6,573.2 L326,573.2 L325.6,583.6 L329.6,590.6 L327.6,591.6 L324,585.6 L322.4,586 L320.6,584 L317.4,586 L317.4,598.6 L311,602.2 L300.6,602 L298.8,602.6 L298.8,605.6 L292.6,606.4 L291.4,608.2 L283.4,608.6 L280.6,611 L281.2,613 L280,619 L277.6,619.4 L274.8,611.4 L272.6,607.8 L267.4,604.4 Z" fill="#fff" stroke="#141414" stroke-width="1.19" />
<path d="M272.7,547.7 L326.6,516.2 L328,516.4 M269.4,547.6 L324.4,515.2 L326.6,516.2" fill="none" stroke="#141414" stroke-width="0.75" />
<path d="M273.3,552.3 L326,521.7" fill="none" stroke="#141414" stroke-width="0.88" />
<path d="M273.4,554.6 L325.6,524.4" fill="none" stroke="#777" stroke-width="1.88" stroke-dasharray="0.4 0.5"/>
<path d="M273.3,557 L325.3,527 M273.3,559.7 L325.3,529.7" fill="none" stroke="#141414" stroke-width="0.69" />
<path d="M269.3,548.6 L269.3,603.4 M272.7,548.6 L272.7,581 L275,584 L275,604.6 L277.6,606.4" fill="none" stroke="#141414" stroke-width="0.75" />
<path d="M267.6,581.6 L269.3,580 M273.6,592.4 L273.6,600 L275,601" fill="none" stroke="#141414" stroke-width="0.62" />
<path d="M328,516.4 L328,538.4 L321.3,555.8 L321.3,566 L319.4,567.4 L319.4,584" fill="none" stroke="#141414" stroke-width="0.88" />
<path d="M331.3,515 L331.3,552 M330,552 L326,558 L326,567 M324,548.6 L324,556.6 L322.6,560" fill="none" stroke="#141414" stroke-width="0.69" />
<path d="M321.3,566 L325.6,567.6 L332.8,565.6 M325.6,567.6 L325.6,573 M321.3,571.6 L325.6,573.2 M329.6,567 L329.6,573.2" fill="none" stroke="#141414" stroke-width="0.69" />
<path d="M322.4,573.4 L322.4,586 M325.6,583.6 L322.4,582" fill="none" stroke="#141414" stroke-width="0.69" />
<path d="M278.6,547.6 L279.4,543.6 L286,539.8 L289.8,541.6 L290,544 L286.4,546.2 L283.4,544.8 L280.6,546.6 Z" fill="none" stroke="#141414" stroke-width="0.88" />
<ellipse cx="277.6" cy="547" rx="1.2" ry="1" fill="none" stroke="#141414" stroke-width="0.62"/>
<ellipse cx="288.4" cy="544" rx="1.2" ry="1" fill="none" stroke="#141414" stroke-width="0.62"/>
<path d="M298.8,528.6 L299.6,526 L302,525 L302.6,527.6 M299.6,526 L301.2,529" fill="none" stroke="#141414" stroke-width="0.75" />
<path d="M314.2,525.2 L314.4,523.4 L316.6,522.4 L317,524.4 Z" fill="none" stroke="#141414" stroke-width="0.62" />
<path d="M320,519.6 L320.4,517 L326.4,513.8 L328,515 L327.6,518 L322.6,520.6 Z" fill="none" stroke="#141414" stroke-width="0.75" />
<path d="M283.4,608.6 L283.4,602.4 L285.6,600.4 L291.4,600.6 L291.4,608.2 M285.6,600.4 L285.6,606.6 L283.4,608.6" fill="none" stroke="#141414" stroke-width="0.81" />
<path d="M292.6,606.4 L292.6,598.6 L295.2,596 L298.8,596.4 L298.8,602.6 M295.2,596 L295.2,603.6 L292.6,606.4" fill="none" stroke="#141414" stroke-width="0.81" />
<path d="M300.6,602 L300.6,596 L314.6,588 L317.4,589 L317.4,598.6 M300.6,596 L303,597.2 L317.4,589 M303,597.2 L303,602" fill="none" stroke="#141414" stroke-width="0.81" />
<path d="M303.6,599.8 L316.8,592.4" fill="none" stroke="#888" stroke-width="2.75" stroke-dasharray="0.45 0.55"/>
<path d="M306.6,591.6 L307,586 L308.4,585.2 L309.4,590 M310,589.6 L310.4,584.6 L311.8,584 L312.8,588" fill="none" stroke="#141414" stroke-width="0.69" />
<path d="M277.6,606.4 L283.4,603.6" fill="none" stroke="#141414" stroke-width="0.62" />
<path d="M275.6,611 L277,609.6 L279,610.4 L280.6,611" fill="none" stroke="#141414" stroke-width="0.62" />
<path d="M285.2,583.8 Q284.8,580.4 287.8,578.2 L310.6,562.4 Q315.4,560 316,564.6 L316.2,572.6 Q316.2,575.8 313.6,577.6 L291.6,590.8 Q287.2,592.8 286.6,589 Z" fill="#fff" stroke="#141414" stroke-width="2.38" />
<path d="M288.6,584.2 Q288.4,582 290.4,580.6 L310.4,567 Q313,565.8 313.2,568 L313.4,572.4 Q313.4,574.2 311.8,575.2 L292,587 Q289.6,588 289.2,586 Z" fill="none" stroke="#141414" stroke-width="0.62" />
<path d="M312.6,563.6 L312.8,574" fill="none" stroke="#141414" stroke-width="0.62" />
<path d="M285,587 L283.2,588 L283.8,591.4 L286.6,590.8 M299.8,569 L300,566.6 L302,565.6 L302.6,567.4" fill="none" stroke="#141414" stroke-width="0.75" />
<path d="M237.6,618.4 L235,561 M237.6,618.4 L273.6,612.6" fill="none" stroke="#141414" stroke-width="0.75" />
<line x1="218.5" y1="547.2" x2="222.5" y2="549.8000000000001" stroke="#141414" stroke-width="1.56" stroke-linecap="butt"/>
<ellipse cx="218.5" cy="547.2" rx="1.6" ry="2.05" fill="#111" transform="rotate(25 218.5 547.2)"/>
<line x1="249.5" y1="529.2" x2="254.0" y2="531.8000000000001" stroke="#141414" stroke-width="1.56" stroke-linecap="butt"/>
<ellipse cx="249.5" cy="529.2" rx="1.6" ry="2.05" fill="#111" transform="rotate(25 249.5 529.2)"/>
<line x1="324" y1="609.4" x2="330" y2="612.1999999999999" stroke="#141414" stroke-width="1.56" stroke-linecap="butt"/>
<ellipse cx="324" cy="609.4" rx="1.6" ry="2.05" fill="#111" transform="rotate(25 324 609.4)"/>
<line x1="323.3" y1="619.7" x2="327.8" y2="622.1" stroke="#141414" stroke-width="1.56" stroke-linecap="butt"/>
<ellipse cx="323.3" cy="619.7" rx="1.6" ry="2.05" fill="#111" transform="rotate(25 323.3 619.7)"/>
<line x1="317.3" y1="623.7" x2="321.8" y2="626.1" stroke="#141414" stroke-width="1.56" stroke-linecap="butt"/>
<ellipse cx="317.3" cy="623.7" rx="1.6" ry="2.05" fill="#111" transform="rotate(25 317.3 623.7)"/>
<path d="M331.6,613 L338.6,616.4" fill="none" stroke="#777" stroke-width="2.75" />
<path d="M331.6,613 L338.6,616.4" fill="none" stroke="#141414" stroke-width="0.75" stroke-dasharray="0.8 0.9"/>
<path d="M324.6,627.6 L332.4,623.8" fill="none" stroke="#777" stroke-width="2.75" />
<path d="M324.6,627.6 L332.4,623.8" fill="none" stroke="#141414" stroke-width="0.75" stroke-dasharray="0.8 0.9"/>
</g>
<g id="p20">
<path d="M361.3,585 L394,569 L394.7,569.7 L394.7,621.7 L373.3,633.7 L373.3,643.2 L365.6,644 L365.3,639 L361.3,637.6 Z" fill="#fff" stroke="#141414" stroke-width="0.94" />
<path d="M361.3,585 L394,569" fill="none" stroke="#141414" stroke-width="1.44" />
<path d="M387.4,571.4 L394.2,568.2" fill="none" stroke="#111" stroke-width="2.12" />
<path d="M357.4,590.7 L360.6,589.1 L363.3,590.3000000000001 L363.3,602.3 L360.2,603.9 L357.4,602.9 Z" fill="#fff" stroke="#141414" stroke-width="0.81" />
<path d="M357.4,590.7 L360.2,591.7 L363.3,590.3000000000001 M360.2,591.7 L360.2,603.9" fill="none" stroke="#141414" stroke-width="0.56" />
<path d="M357.4,604.7 L360.6,603.1 L363.3,604.3000000000001 L363.3,609 L360.2,610.6 L357.4,609.6 Z" fill="#fff" stroke="#141414" stroke-width="0.81" />
<path d="M357.4,604.7 L360.2,605.7 L363.3,604.3000000000001 M360.2,605.7 L360.2,610.6" fill="none" stroke="#141414" stroke-width="0.56" />
<path d="M357.4,611.3 L360.6,609.6999999999999 L363.3,610.9 L363.3,619.7 L360.2,621.3000000000001 L357.4,620.3000000000001 Z" fill="#fff" stroke="#141414" stroke-width="0.81" />
<path d="M357.4,611.3 L360.2,612.3 L363.3,610.9 M360.2,612.3 L360.2,621.3000000000001" fill="none" stroke="#141414" stroke-width="0.56" />
<path d="M357.4,628.7 L360.6,627.1 L363.3,628.3000000000001 L363.3,639.7 L360.2,641.3000000000001 L357.4,640.3000000000001 Z" fill="#fff" stroke="#141414" stroke-width="0.81" />
<path d="M357.4,628.7 L360.2,629.7 L363.3,628.3000000000001 M360.2,629.7 L360.2,641.3000000000001" fill="none" stroke="#141414" stroke-width="0.56" />
<path d="M358.8,633 L362,632.6" fill="none" stroke="#141414" stroke-width="0.62" />
<path d="M392.7,576.9000000000001 L395.6,575.5 L397.8,576.5 L397.8,587.7 L394.8,589.1 L392.7,588.3000000000001 Z" fill="#fff" stroke="#141414" stroke-width="0.81" />
<path d="M392.7,576.9000000000001 L394.8,577.7 L397.8,576.5 M394.8,577.7 L394.8,589.1" fill="none" stroke="#141414" stroke-width="0.56" />
<path d="M392.7,590.9000000000001 L395.6,589.5 L397.8,590.5 L397.8,595 L394.8,596.4 L392.7,595.6 Z" fill="#fff" stroke="#141414" stroke-width="0.81" />
<path d="M392.7,590.9000000000001 L394.8,591.7 L397.8,590.5 M394.8,591.7 L394.8,596.4" fill="none" stroke="#141414" stroke-width="0.56" />
<path d="M392.7,596.9000000000001 L395.6,595.5 L397.8,596.5 L397.8,601 L394.8,602.4 L392.7,601.6 Z" fill="#fff" stroke="#141414" stroke-width="0.81" />
<path d="M392.7,596.9000000000001 L394.8,597.7 L397.8,596.5 M394.8,597.7 L394.8,602.4" fill="none" stroke="#141414" stroke-width="0.56" />
<path d="M365.4,636 L365.4,644 L373.3,643.2 L373.3,633 L368,635.6 Z" fill="#fff" stroke="#141414" stroke-width="0.88" />
<path d="M368,635.6 L368,641.4 L373.3,640.8 M365.4,636 L368,635.6" fill="none" stroke="#141414" stroke-width="0.62" />
<circle cx="385.3" cy="615" r="0.65" fill="#141414"/>
<circle cx="385.3" cy="619" r="0.65" fill="#141414"/>
<circle cx="382" cy="626.3" r="0.65" fill="#141414"/>
<circle cx="364.7" cy="621" r="0.65" fill="#141414"/>
<circle cx="389" cy="620.4" r="0.65" fill="#141414"/>
<ellipse cx="390.7" cy="614.3" rx="0.9" ry="1.2" fill="#555" stroke="#141414" stroke-width="0.50"/>
<ellipse cx="376" cy="622.3" rx="0.9" ry="1.2" fill="#555" stroke="#141414" stroke-width="0.50"/>
<ellipse cx="364.7" cy="621" rx="1" ry="1.1" fill="none" stroke="#141414" stroke-width="0.50"/>
<path d="M362,584.3 L373.3,591 M383.3,575 L392,580 M382.7,627.7 L388.7,630.3" stroke="#141414" stroke-width="0.62" stroke-dasharray="1.5 1.1" stroke-linecap="butt" fill="none"/>
<line x1="353.3" y1="579.4" x2="357.90000000000003" y2="582.3" stroke="#141414" stroke-width="1.56" stroke-linecap="butt"/>
<ellipse cx="353.3" cy="579.4" rx="1.6" ry="2.05" fill="#111" transform="rotate(25 353.3 579.4)"/>
<line x1="372" y1="568.7" x2="376.2" y2="571.1" stroke="#141414" stroke-width="1.56" stroke-linecap="butt"/>
<ellipse cx="372" cy="568.7" rx="1.6" ry="2.05" fill="#111" transform="rotate(25 372 568.7)"/>
<line x1="352" y1="609.7" x2="356.2" y2="611.9000000000001" stroke="#141414" stroke-width="1.56" stroke-linecap="butt"/>
<ellipse cx="352" cy="609.7" rx="1.6" ry="2.05" fill="#111" transform="rotate(25 352 609.7)"/>
<circle cx="366.4" cy="583" r="0.6" fill="#141414"/>
<circle cx="378" cy="577.4" r="0.6" fill="#141414"/>
<circle cx="384.4" cy="574.2" r="0.6" fill="#141414"/>
<path d="M400.7,557.7 L394.4,569" fill="none" stroke="#141414" stroke-width="0.75" />
</g>
<g id="p12">
<path d="M422.5,598.8 L427.5,610" fill="none" stroke="#141414" stroke-width="0.75" />
<path d="M421.2,612.5 L425,614.8" fill="none" stroke="#141414" stroke-width="1.25" />
<ellipse cx="428" cy="617.4" rx="4.6" ry="6.7" fill="#3a3a3a" stroke="#141414" stroke-width="1.12" transform="rotate(22 428 617.4)"/>
<path d="M430.4,611.2 L435.6,613 L432.6,625.2 L427.4,624 Z" fill="#3a3a3a" stroke="#3a3a3a" stroke-width="0.38" />
<path d="M425.4,613.2 L431.2,615.0" fill="none" stroke="#e6e6e6" stroke-width="1.12" />
<path d="M425.7,615.4000000000001 L431.5,617.2" fill="none" stroke="#e6e6e6" stroke-width="1.12" />
<path d="M426.0,617.6 L431.8,619.4" fill="none" stroke="#e6e6e6" stroke-width="1.12" />
<path d="M426.29999999999995,619.8000000000001 L432.09999999999997,621.6" fill="none" stroke="#e6e6e6" stroke-width="1.12" />
<path d="M426.59999999999997,622.0 L432.4,623.8" fill="none" stroke="#e6e6e6" stroke-width="1.12" />
<ellipse cx="434" cy="619" rx="4.6" ry="6" fill="#fff" stroke="#141414" stroke-width="1.25" transform="rotate(22 434 619)"/>
<path d="M439.2,623 L444.4,625.6" stroke="#141414" stroke-width="0.62" stroke-dasharray="1.5 1.1" stroke-linecap="butt" fill="none"/>
</g>
<g id="br12">
<path d="M450.6,598.4 L454.4,595.4 L458.4,595.8 L458.6,611.6 L454.6,613.6 L450.8,612.6 Z" fill="#fff" stroke="#141414" stroke-width="0.88" />
<path d="M450.6,598.4 L454.2,599.4 L458.4,595.8 M454.2,599.4 L454.6,613.6" fill="none" stroke="#141414" stroke-width="0.69" />
<path d="M452.4,599.4 L452.6,612.6" fill="none" stroke="#666" stroke-width="1.88" stroke-dasharray="2.2 0.6" stroke-linecap="butt"/>
<path d="M450.8,603.4 L454.3,604.4 M450.8,608 L454.4,609" fill="none" stroke="#141414" stroke-width="0.62" />
<circle cx="456.4" cy="600.6" r="0.65" fill="#141414"/><circle cx="456.5" cy="609.8" r="0.65" fill="#141414"/>
<line x1="443.8" y1="592.9" x2="448.3" y2="595.4" stroke="#141414" stroke-width="1.56" stroke-linecap="butt"/>
<ellipse cx="443.8" cy="592.9" rx="1.6" ry="2.05" fill="#111" transform="rotate(25 443.8 592.9)"/>
<line x1="443.8" y1="603.3" x2="448.3" y2="605.5" stroke="#141414" stroke-width="1.56" stroke-linecap="butt"/>
<ellipse cx="443.8" cy="603.3" rx="1.6" ry="2.05" fill="#111" transform="rotate(25 443.8 603.3)"/>
</g>
<g id="p26">
<path d="M426.7,640 Q426.7,638.4 428,637.6 L483.6,605 Q485,604.2 486.4,604.8 L495.6,609.4 Q496.7,610 496.7,611.4 L496.7,642 L437.6,677 L426.7,673.3 Z" fill="#fff" stroke="#141414" stroke-width="1.06" />
<path d="M427.4,638.6 L437.5,644.2 L496.4,610.2 M437.5,644.2 L437.5,677" fill="none" stroke="#141414" stroke-width="0.94" />
<path d="M429.2,641 L429.2,673 M431,642 L431,674" fill="none" stroke="#141414" stroke-width="0.56" />
<path d="M440,647.5 L488.3,618.3 L488.3,640 M440,647.5 L440,675 M441.6,649.6 L487,622" fill="none" stroke="#141414" stroke-width="0.62" />
<path d="M489.6,612.6 L489.6,644" fill="none" stroke="#141414" stroke-width="0.62" />
<path d="M437.5,634.2 L437.5,630.6 L442.6,627.6 L444.2,628.6 L444.2,632 M439,633.4 L439,630.2 M442.6,627.6 L442.6,631" fill="none" stroke="#141414" stroke-width="0.75" />
<path d="M475,611 L475,607.4 L482.6,603 L484.2,604 L484.2,607.6 M476.6,610 L476.6,606.8 M482.6,603 L482.6,606.6" fill="none" stroke="#141414" stroke-width="0.75" />
<path d="M455.8,623.6 L456.6,619.4 L459.6,617.6 L461.6,618.6 L461.8,622.4 L463.4,621.6 L463.4,623.6 L459,626 Z" fill="#fff" stroke="#141414" stroke-width="0.81" />
<path d="M456.6,619.4 L458.6,620.6 L461.6,618.6 M458.6,620.6 L459,626" fill="none" stroke="#141414" stroke-width="0.56" />
<path d="M444.6,626.6 L455.4,621.6" stroke="#141414" stroke-width="0.62" stroke-dasharray="1.5 1.1" stroke-linecap="butt" fill="none"/>
<circle cx="455.4" cy="637.6" r="0.7" fill="#fff" stroke="#141414" stroke-width="0.56"/>
<circle cx="473.6" cy="626.8" r="0.7" fill="#fff" stroke="#141414" stroke-width="0.56"/>
<circle cx="489.6" cy="610.8" r="0.7" fill="#fff" stroke="#141414" stroke-width="0.56"/>
<ellipse cx="491.7" cy="620" rx="1" ry="1.2" fill="#fff" stroke="#141414" stroke-width="0.62"/>
<ellipse cx="491.7" cy="629.2" rx="1" ry="1.2" fill="#fff" stroke="#141414" stroke-width="0.62"/>
<path d="M424.2,674 Q424.2,672.4 425.6,672.8 L436.7,679.6 L441.7,675 Q448,669.6 456.7,667.5 L461.7,668.3 L471.7,661.7 L496.7,646.7 L499.2,641.6 Q500,640.4 501.2,641 L504.8,643.4 Q505.8,644.2 505.8,645.6 L505.8,660 L488.6,672.6 L488.4,681 L468.4,693 L468.4,699.6 L461,700.4 L461,697 L442.5,707 L437,705.6 L424.2,697.2 Z" fill="#fff" stroke="#141414" stroke-width="1.19" />
<path d="M436.7,679.6 L436.7,705.4 M426.4,675 L426.4,698.4 M424.8,697.6 L437,705.2" fill="none" stroke="#141414" stroke-width="0.75" />
<path d="M438.6,681.6 L443,677 Q449,672 456.6,670 L461.8,670.8 L472.6,663.8 L497.6,648.8 L500,644.4 L503.4,646.4 L503.4,659 L486.6,671.4 L486.4,679.6 L442,703.6 L438.6,702.6 Z" fill="none" stroke="#141414" stroke-width="0.62" />
<path d="M456.7,667.5 L489,648.4 M457.6,669.4 L489.6,650.4" fill="none" stroke="#141414" stroke-width="0.69" />
<path d="M468.4,693 L461,697 M463.6,700 L463.6,696.4" fill="none" stroke="#141414" stroke-width="0.62" />
<path d="M439.6,690 Q439,682 444.6,676.6 Q450,672 455.6,670.4 Q459,669.8 459.4,672.6 Q459.6,677 455.6,681.6 Q454,684 453.6,688 Q453,694.6 447.6,697.2 Q441,699.4 439.6,690 Z" fill="none" stroke="#141414" stroke-width="2.12" />
<path d="M441.6,689.6 Q441.2,683 446,678.4 Q450.6,674.6 455.6,673 Q457.4,672.8 457.4,674.4 Q457,677.6 453.6,681.4 Q452,684 451.6,688 Q451,693 447,695 Q442.6,696.4 441.6,689.6 Z" fill="none" stroke="#141414" stroke-width="0.50" />
<rect x="447.8" y="681.2" width="1.6" height="0.8" fill="#141414"/>
<rect x="447.8" y="685.6" width="1.6" height="0.8" fill="#141414"/>
<rect x="447.8" y="690.0" width="1.6" height="0.8" fill="#141414"/>
<path d="M461,672.6 L471.6,667 L472.6,676.6 L462,682.6 Z" fill="none" stroke="#141414" stroke-width="0.88" />
<ellipse cx="466.7" cy="675" rx="3.2" ry="3.6" fill="none" stroke="#141414" stroke-width="1.12"/>
<ellipse cx="466.7" cy="675" rx="1.7" ry="2" fill="none" stroke="#141414" stroke-width="0.62"/>
<circle cx="466.7" cy="675" r="0.6" fill="#141414"/>
<path d="M459.6,683.6 L462,682.6 M472.6,676.6 L475,675.6" fill="none" stroke="#141414" stroke-width="0.62" />
<ellipse cx="482.5" cy="666.7" rx="4" ry="4.6" fill="none" stroke="#141414" stroke-width="1.25" transform="rotate(15 482.5 666.7)"/>
<ellipse cx="482.5" cy="666.7" rx="2.2" ry="2.6" fill="none" stroke="#141414" stroke-width="0.62"/>
<ellipse cx="497.8" cy="657.5" rx="5" ry="5.9" fill="none" stroke="#141414" stroke-width="1.38" transform="rotate(15 497.8 657.5)"/>
<ellipse cx="497.8" cy="657.5" rx="3" ry="3.6" fill="none" stroke="#141414" stroke-width="0.62"/>
<path d="M475,672.6 Q476,676 480,675.6 M488.4,672.6 Q490.6,670 490.6,667" fill="none" stroke="#141414" stroke-width="0.62" />
<path d="M486.4,668.6 Q488.6,665.6 493.4,665.4 L494.4,667 Q491,669.6 488,671.6 Z" fill="#444" stroke="#141414" stroke-width="0.75" />
<path d="M429.6,700.8 L429.6,706 L431.8,707 L431.8,702.2 M433.8,703 L433.8,707.4 M430.6,706.6 L430.6,709" fill="none" stroke="#141414" stroke-width="0.75" />
<path d="M493.6,670.6 L506,678.6" stroke="#141414" stroke-width="0.62" stroke-dasharray="1.5 1.1" stroke-linecap="butt" fill="none"/>
<path d="M418,663 L426,667.4" stroke="#141414" stroke-width="0.62" stroke-dasharray="1.5 1.1" stroke-linecap="butt" fill="none"/>
<path d="M493,594.2 L491,607.4" fill="none" stroke="#141414" stroke-width="0.75" />
</g>
<g id="p21">
<path d="M409.4,650.6 L412.4,647.4 L416.2,647.4 L418.2,649.6 L418.2,662.4 L420.8,663.6 L420.8,667 L416.4,670.8 L412.8,671.2 L411.8,668.6 L412.2,660.4 L409.4,656.6 Z" fill="#fff" stroke="#141414" stroke-width="0.94" />
<path d="M409.4,650.6 L412.6,652 L416.2,649.6 L416.2,647.4 M412.6,652 L412.6,660 M414.6,650.8 L414.6,664 L416.4,666 L416.4,670.8 M416.2,655 L418.2,654 M412.2,660.4 L414.6,661.4 M418.2,662.4 L416.2,663.6" fill="none" stroke="#141414" stroke-width="0.62" />
<path d="M410.6,652 L410.6,656.6" fill="none" stroke="#444" stroke-width="1.12" />
<circle cx="414" cy="669" r="0.9" fill="#111"/>
<line x1="395.5" y1="649.5" x2="400.5" y2="652.0" stroke="#141414" stroke-width="1.56" stroke-linecap="butt"/>
<ellipse cx="395.5" cy="649.5" rx="1.6" ry="2.05" fill="#111" transform="rotate(25 395.5 649.5)"/>
<path d="M401.5,652.8 L410,657.4 M419.5,664 L425.6,666.8" stroke="#141414" stroke-width="0.62" stroke-dasharray="1.5 1.1" stroke-linecap="butt" fill="none"/>
<path d="M410,680.5 L413.6,669.4" fill="none" stroke="#141414" stroke-width="0.75" />
</g>
<g id="p27">
<path d="M485.5,685.2 L492.6,689.6" fill="none" stroke="#141414" stroke-width="1.88" />
<ellipse cx="496" cy="692" rx="4.8" ry="6.6" fill="#3a3a3a" stroke="#141414" stroke-width="1.25" transform="rotate(20 496 692)"/>
<path d="M492.6,687.6 L496.4,688.4" fill="none" stroke="#ddd" stroke-width="0.88" />
<path d="M492.8,689.8000000000001 L496.59999999999997,690.6" fill="none" stroke="#ddd" stroke-width="0.88" />
<path d="M493.0,692.0 L496.79999999999995,692.8" fill="none" stroke="#ddd" stroke-width="0.88" />
<path d="M493.20000000000005,694.2 L497.0,695.0" fill="none" stroke="#ddd" stroke-width="0.88" />
<path d="M493.40000000000003,696.4 L497.2,697.1999999999999" fill="none" stroke="#ddd" stroke-width="0.88" />
<ellipse cx="499.6" cy="692.4" rx="4.4" ry="6" fill="#fff" stroke="#141414" stroke-width="1.50" transform="rotate(20 499.6 692.4)"/>
<circle cx="499.3" cy="696.5" r="0.9" fill="#111"/>
<path d="M499.3,696.5 L503,705.5" fill="none" stroke="#141414" stroke-width="0.75" />
<ellipse cx="511.2" cy="683.3" rx="5" ry="6.9" fill="#fff" stroke="#141414" stroke-width="1.12" transform="rotate(20 511.2 683.3)"/>
<ellipse cx="512.6" cy="683.2" rx="4.1" ry="6" fill="#fff" stroke="#141414" stroke-width="1.00" transform="rotate(20 512.6 683.2)"/>
</g>
<filter id="ff" x="-5%" y="-5%" width="110%" height="110%"><feOffset dx="0" dy="0"/></filter><g id="labels" filter="url(#ff)"><text x="32.0" y="337.8" font-size="8.2">1</text><text x="558" y="233.3" font-size="8.2">31</text><text x="126.2" y="643.6" font-size="8.2">800</text><text x="208.2" y="645.8" font-size="8.2">801</text><text x="125.5" y="720" font-size="8.2">802</text><text x="465.8" y="497.5" font-size="8.2">724</text><text x="466.8" y="532.8" font-size="8.2">90</text><text x="228.8" y="626.2" font-size="8.2">18</text><text x="401" y="557" font-size="8.2">20</text><text x="414.9" y="595.4" font-size="8.2">12</text><text x="488.8" y="593" font-size="8.2">26</text><text x="403.6" y="687.5" font-size="8.2">21</text><text x="503.6" y="713.5" font-size="8.2">27</text></g>
</svg>
</body></html>
